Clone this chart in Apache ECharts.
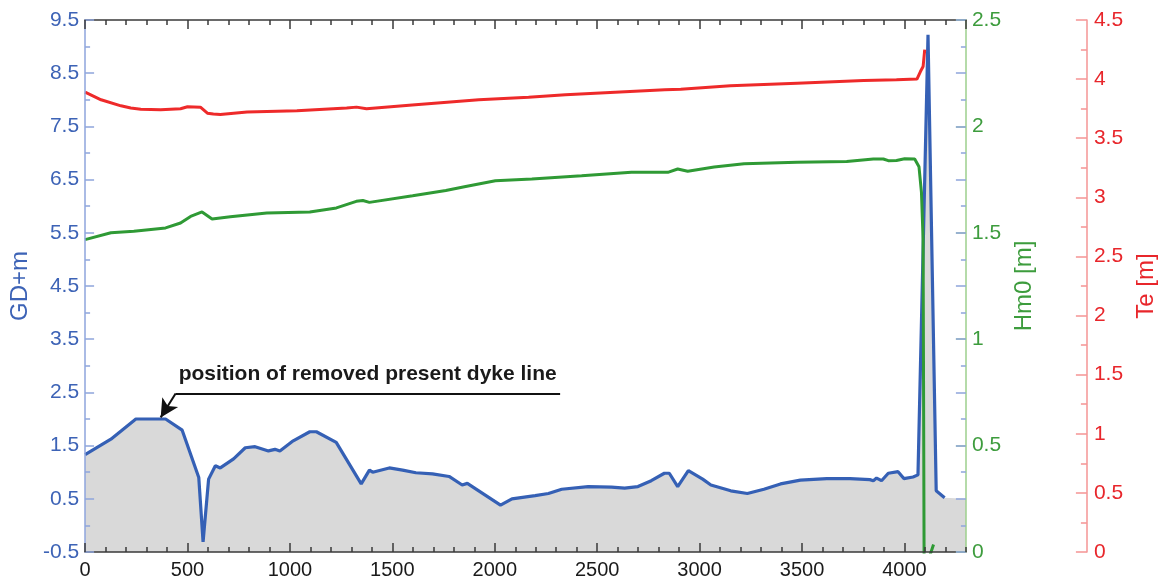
<!DOCTYPE html>
<html><head><meta charset="utf-8">
<script src="https://cdn.jsdelivr.net/npm/echarts@6/dist/echarts.min.js"></script>
<style>html,body{margin:0;padding:0;background:#fff}#c{width:1166px;height:580px}</style>
</head><body><div id="c"></div>
<script>
// ---- data ----
const gdX = [0,126,248,393,474,555,576,603,636,660,725,782,830,895,927,951,1016,1097,1129,1226,1348,1388,1404,1485,1550,1615,1696,1777,1841,1866,2028,2084,2197,2262,2327,2456,2570,2634,2699,2764,2828,2852,2893,2945,3015,3055,3152,3233,3314,3395,3492,3621,3734,3831,3848,3864,3888,3921,3969,3997,4042,4066,4115,4155,4196];
const gdY = [1.33,1.62,2.0,2.0,1.79,0.90,-0.31,0.87,1.12,1.08,1.25,1.46,1.48,1.40,1.43,1.40,1.59,1.76,1.76,1.56,0.78,1.04,1.0,1.08,1.04,0.99,0.97,0.92,0.76,0.79,0.38,0.50,0.56,0.60,0.68,0.73,0.72,0.70,0.73,0.84,0.98,0.98,0.73,1.03,0.87,0.76,0.65,0.60,0.68,0.78,0.85,0.88,0.88,0.86,0.84,0.89,0.84,0.98,1.01,0.88,0.91,0.95,9.22,0.65,0.52];
const groundTailX = [4300];
const groundTailY = [0.5];

const hm0X = [0,126,238,393,466,515,571,620,709,887,1097,1227,1324,1356,1388,1599,1761,1858,2003,2181,2424,2667,2845,2893,2942,3071,3217,3476,3718,3848,3897,3921,3961,4001,4050,4071,4083,4091,4096,4110,4123,4142];
const hm0Y = [1.468,1.50,1.507,1.523,1.546,1.577,1.598,1.565,1.575,1.593,1.598,1.617,1.648,1.652,1.643,1.674,1.699,1.718,1.745,1.753,1.768,1.784,1.784,1.80,1.789,1.809,1.825,1.831,1.835,1.847,1.847,1.839,1.84,1.848,1.847,1.81,1.69,1.47,-0.05,'-',-0.02,0.035];

const teX = [0,78,175,223,272,369,466,500,563,597,626,660,791,1034,1277,1325,1374,1597,1922,2165,2345,2830,2908,3150,3476,3801,3961,4061,4078,4091,4099];
const teY = [3.89,3.825,3.774,3.755,3.746,3.740,3.749,3.766,3.763,3.712,3.704,3.700,3.721,3.732,3.755,3.763,3.749,3.782,3.825,3.847,3.867,3.909,3.915,3.943,3.966,3.988,3.994,4.0,4.064,4.106,4.25];

const xMajorStep = 500;
const xMinorStep = 100;
const gdMajorTicks = [-0.5,0.5,1.5,2.5,3.5,4.5,5.5,6.5,7.5,8.5,9.5];
const gdMinorTicks = [0,1,2,3,4,5,6,7,8,9];
const hm0Ticks = [0,0.5,1,1.5,2,2.5];
const teMajorTicks = [0,0.5,1,1.5,2,2.5,3,3.5,4,4.5];
const teMinorTicks = [0.25,0.75,1.25,1.75,2.25,2.75,3.25,3.75,4.25];

const noteText = 'position of removed present dyke line';
const noteLineStart = [442, 2.48];
const noteLineEnd = [2319, 2.48];
const noteArrowTip = [369, 2.03];

// ---- styles ----
const FONT = 'Liberation Sans, Arial, sans-serif';
const BLUE = '#3560b5', BLUE_L = '#8ea5dc', BLUE_T = '#3d63b6';
const GREEN = '#2f9a35', GREEN_L = '#9ccf8c', GREEN_T = '#3d9c3d';
const RED = '#ee2a2a', RED_L = '#f59494', RED_T = '#e8262b';
const GRAY = '#d9d9d9', DARK = '#3a3a3a';

const pairs = (xs, ys) => xs.map((x, i) => [x, ys[i]]);
const gdData = pairs(gdX, gdY);
const groundData = gdData.concat(pairs(groundTailX, groundTailY));
const plain = v => String(v);

function xAx(pos, step, len, showLine, showLabel) {
  return {
    type: 'value', min: 0, max: 4300, interval: step, position: pos, z: 20,
    axisLine: { show: showLine, onZero: false, lineStyle: { color: DARK, width: 1.5 } },
    axisTick: { show: true, inside: true, length: len, lineStyle: { color: DARK, width: 1.5 } },
    axisLabel: showLabel ? { show: true, showMaxLabel: false, formatter: plain, fontSize: 20, color: '#1a1a1a', margin: 8, fontFamily: FONT } : { show: false },
    splitLine: { show: false }
  };
}
function yAx(o) {
  return Object.assign({
    type: 'value', splitLine: { show: false }, z: 20,
    axisLine: { show: false, onZero: false },
    axisLabel: { show: false }
  }, o);
}

const chart = echarts.init(document.getElementById('c'), null, { renderer: 'canvas' });
chart.setOption({
  animation: false,
  backgroundColor: '#ffffff',
  grid: { left: 84, right: 197, top: 20, bottom: 27, containLabel: false },
  xAxis: [
    xAx('bottom', xMajorStep, 9, true, true),
    xAx('bottom', xMinorStep, 5, false, false),
    xAx('top', xMajorStep, 9, true, false),
    xAx('top', xMinorStep, 5, false, false)
  ],
  yAxis: [
    yAx({
      min: -0.5, max: 9.5, position: 'left',
      name: 'GD+m', nameLocation: 'middle', nameGap: 52, nameRotate: 90,
      nameTextStyle: { color: BLUE_T, fontSize: 24, fontFamily: FONT },
      axisLine: { show: true, onZero: false, lineStyle: { color: BLUE_L, width: 1.5 } },
      axisTick: { show: true, inside: true, length: 9, customValues: gdMajorTicks, lineStyle: { color: BLUE_L, width: 1.5 } },
      axisLabel: { show: true, customValues: gdMajorTicks, formatter: plain, color: BLUE_T, fontSize: 21, margin: 6, fontFamily: FONT }
    }),
    yAx({
      min: 0, max: 2.5, position: 'right', offset: 0,
      name: 'Hm0 [m]', nameLocation: 'middle', nameGap: 46, nameRotate: 90,
      nameTextStyle: { color: GREEN_T, fontSize: 24, fontFamily: FONT },
      axisLine: { show: true, onZero: false, lineStyle: { color: GREEN_L, width: 1.5 } },
      axisTick: { show: true, inside: true, length: 10, customValues: hm0Ticks, lineStyle: { color: GREEN_L, width: 1.5 } },
      axisLabel: { show: true, customValues: hm0Ticks, formatter: plain, color: GREEN_T, fontSize: 21, margin: 6, fontFamily: FONT }
    }),
    yAx({
      min: 0, max: 4.5, position: 'right', offset: 121,
      name: 'Te [m]', nameLocation: 'middle', nameGap: 44, nameRotate: 90,
      nameTextStyle: { color: RED_T, fontSize: 24, fontFamily: FONT },
      axisLine: { show: true, onZero: false, lineStyle: { color: RED_L, width: 1.5 } },
      axisTick: { show: true, inside: true, length: 11, customValues: teMajorTicks, lineStyle: { color: RED_L, width: 1.5 } },
      axisLabel: { show: true, customValues: teMajorTicks, formatter: plain, color: RED_T, fontSize: 21, margin: 7, fontFamily: FONT }
    }),
    yAx({ min: -0.5, max: 9.5, position: 'left',
      axisTick: { show: true, inside: true, length: 5, customValues: gdMinorTicks, lineStyle: { color: BLUE_L, width: 1.5 } } }),
    yAx({ min: -0.5, max: 9.5, position: 'right', offset: 0,
      axisTick: { show: true, inside: true, length: 10, customValues: gdMajorTicks, lineStyle: { color: BLUE_L, width: 1.5 } } }),
    yAx({ min: -0.5, max: 9.5, position: 'right', offset: 0,
      axisTick: { show: true, inside: true, length: 5, customValues: gdMinorTicks, lineStyle: { color: BLUE_L, width: 1.5 } } }),
    yAx({ min: 0, max: 4.5, position: 'right', offset: 121,
      axisTick: { show: true, inside: true, length: 6, customValues: teMinorTicks, lineStyle: { color: RED_L, width: 1.5 } } })
  ],
  series: [
    {
      name: 'ground', type: 'line', xAxisIndex: 0, yAxisIndex: 0, data: groundData,
      symbol: 'none', lineStyle: { width: 0, opacity: 0 },
      areaStyle: { color: GRAY, opacity: 1, origin: 'start' }, z: 1, silent: true
    },
    {
      name: 'GD+m', type: 'line', xAxisIndex: 0, yAxisIndex: 0, data: gdData,
      symbol: 'none', lineStyle: { color: BLUE, width: 3.2 }, z: 3,
      markLine: {
        silent: true, animation: false,
        lineStyle: { color: '#111', width: 2, type: 'solid' },
        label: { show: false },
        data: [
          [{ coord: noteLineStart, symbol: 'none' }, { coord: noteLineEnd, symbol: 'none' }],
          [{ coord: noteLineStart, symbol: 'none' }, { coord: noteArrowTip, symbol: 'arrow', symbolSize: [14, 18] }]
        ]
      }
    },
    {
      name: 'Hm0', type: 'line', xAxisIndex: 0, yAxisIndex: 1, data: pairs(hm0X, hm0Y),
      symbol: 'none', connectNulls: false, lineStyle: { color: GREEN, width: 3 }, z: 4
    },
    {
      name: 'Te', type: 'line', xAxisIndex: 0, yAxisIndex: 2, data: pairs(teX, teY),
      symbol: 'none', lineStyle: { color: RED, width: 3 }, z: 4
    }
  ]
});

const p = chart.convertToPixel({ xAxisIndex: 0, yAxisIndex: 0 }, noteLineStart);
chart.setOption({
  graphic: [{
    type: 'text', x: p[0] + 3, y: p[1] - 9, z: 10,
    style: {
      text: noteText, fill: '#1a1a1a', font: 'bold 21px ' + FONT,
      align: 'left', verticalAlign: 'bottom', textAlign: 'left', textVerticalAlign: 'bottom'
    }
  }]
});
</script>
</body></html>
